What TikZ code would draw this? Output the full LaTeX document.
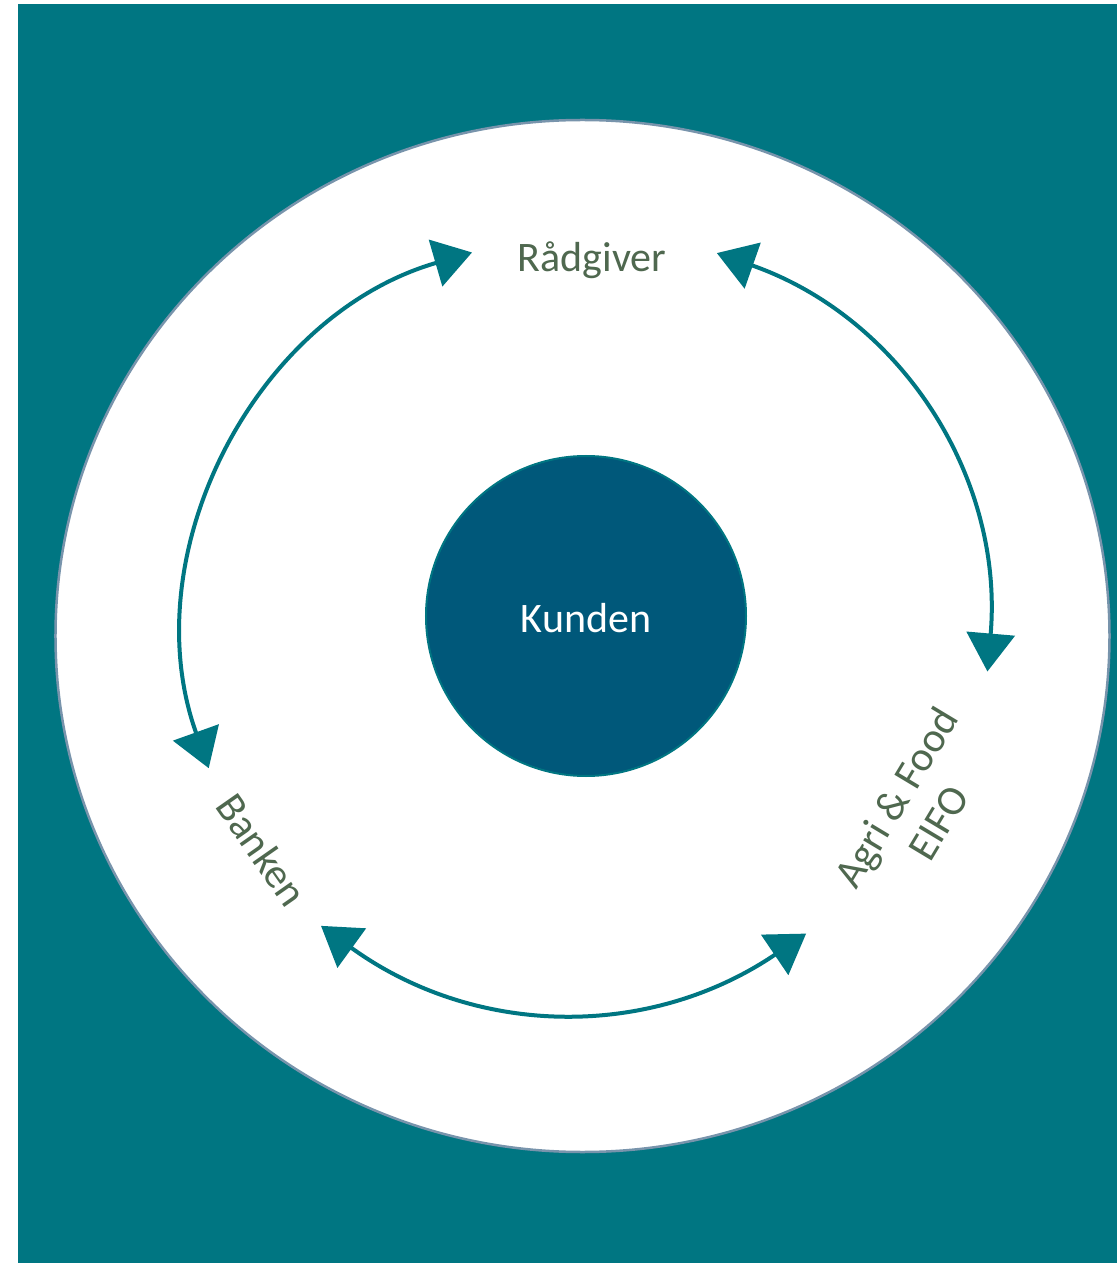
\documentclass[tikz,border=0pt]{standalone}
\usepackage{fontspec}
\setmainfont{Carlito}
\usetikzlibrary{arrows.meta,calc}

\definecolor{petrol}{RGB}{0,118,130}
\definecolor{deepblue}{RGB}{0,88,122}
\definecolor{mossgreen}{RGB}{79,104,79}
\definecolor{rimgray}{RGB}{120,148,172}

\begin{document}
\begin{tikzpicture}[
        x=1pt, y=1pt,
        >={Triangle[length=38pt, width=48pt]}, % big PowerPoint-like tips
        core/.style={circle, draw=petrol, line width=2pt, fill=deepblue, minimum size=320pt, inner sep=0pt},
        actor/.style={text=mossgreen, font=\fontsize{42}{49}\selectfont, align=center, inner sep=0pt},
        link/.style={draw=petrol, line width=4pt, <->}
    ]

    % ==========================================
    % 1. Background and outer ring
    % ==========================================
    \useasboundingbox[fill=white] (-582,-627) rectangle (535,636);
    \fill[petrol] (-564,-627) rectangle (535,632);
    \draw[rimgray, line width=2.5pt, fill=white] (0.5,0) ellipse [x radius=527, y radius=516];

    % ==========================================
    % 2. Centre and the three partners
    % ==========================================
    \node[core] (kunde) at (4,20) {};
    \node[text=white, font=\fontsize{42}{49}\selectfont] (kundetxt) at (4,18) {Kunden};

    \node[actor] (raad) at (10,376) {Rådgiver};
    \node[actor, rotate=-55] (bank) at (-320,-214) {Banken};
    \node[actor, rotate=59] (agri) at (335,-174) {Agri \& Food\\EIFO};

    % ==========================================
    % 3. Arrow ends on the inner ring
    % ==========================================
    \coordinate (raadL) at (106:399);
    \coordinate (bankT) at (199.5:396);
    \coordinate (raadR) at (70.6:406);
    \coordinate (agriT) at (-5:407);
    \coordinate (bankB) at ($(-12,9)+(230.2:389)$);
    \coordinate (agriB) at ($(-12,9)+(307.6:387)$);

    % curved links (both ways)
    \path[link] (raadL) to[bend right=46.75] (bankT);
    \path[link] (raadR) to[bend left=37.8] (agriT);
    \path[link] (bankB) to[bend right=35] (agriB);

\end{tikzpicture}
\end{document}
